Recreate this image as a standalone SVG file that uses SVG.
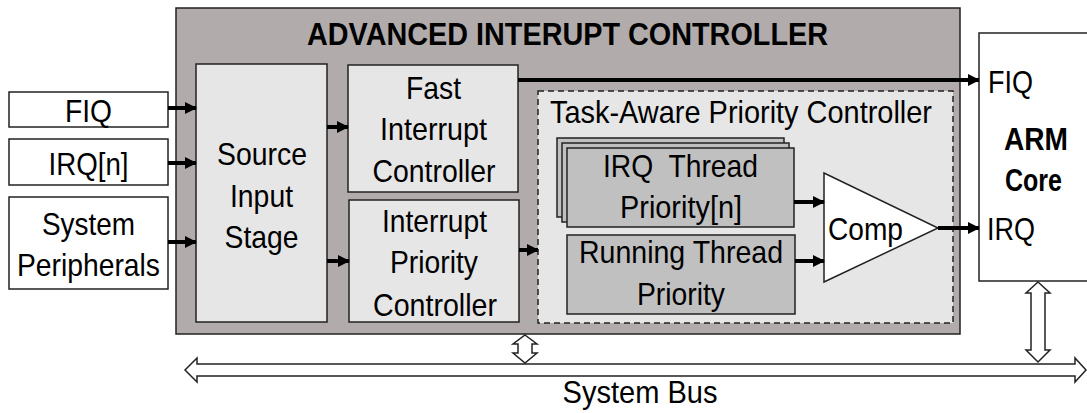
<svg xmlns="http://www.w3.org/2000/svg" width="1087" height="413" viewBox="0 0 1087 413">
<defs>
<style>
.t{font-family:"Liberation Sans",Arial,sans-serif;font-size:32px;fill:#000;text-anchor:middle}
.b{font-weight:bold}
.s{text-anchor:start}
.box{stroke:#222;stroke-width:1.5}
.w{fill:#fff}
.l{fill:#e6e6e6}
.g{fill:#c0c0c0}
.c{stroke:#000;stroke-width:4;fill:none;marker-end:url(#ah)}
.blk{fill:#fff;stroke:#222;stroke-width:1.5}
</style>
<marker id="ah" markerUnits="userSpaceOnUse" markerWidth="12" markerHeight="12" refX="11" refY="6" orient="auto"><path d="M0,0 L12,6 L0,12 z" fill="#000"/></marker>
</defs>
<rect width="1087" height="413" fill="#fff"/>
<g id="aic"><rect class="box" x="176" y="8" width="784" height="326" fill="#b1acab"/>
<text class="t b" x="567.5" y="45" textLength="521" lengthAdjust="spacingAndGlyphs">ADVANCED INTERUPT CONTROLLER</text></g>
<g id="in-fiq"><rect class="box w" x="9" y="92" width="159" height="35"/><text class="t" x="88.5" y="122" textLength="47" lengthAdjust="spacingAndGlyphs">FIQ</text></g>
<g id="in-irq"><rect class="box w" x="9" y="139" width="159" height="46"/><text class="t" x="88.5" y="175" textLength="80" lengthAdjust="spacingAndGlyphs">IRQ[n]</text></g>
<g id="in-sys"><rect class="box w" x="9" y="197" width="159" height="92"/><text class="t" x="88.5" y="235" textLength="93" lengthAdjust="spacingAndGlyphs">System</text><text class="t" x="88.5" y="276" textLength="143" lengthAdjust="spacingAndGlyphs">Peripherals</text></g>
<g id="sis"><rect class="box l" x="196" y="64" width="131" height="258"/><text class="t" x="262" y="165" textLength="90" lengthAdjust="spacingAndGlyphs">Source</text><text class="t" x="261.5" y="206.5" textLength="63" lengthAdjust="spacingAndGlyphs">Input</text><text class="t" x="261.5" y="248" textLength="74" lengthAdjust="spacingAndGlyphs">Stage</text></g>
<g id="fic"><rect class="box l" x="348" y="65" width="170" height="127"/><text class="t" x="433.5" y="99" textLength="55" lengthAdjust="spacingAndGlyphs">Fast</text><text class="t" x="433.5" y="140" textLength="107" lengthAdjust="spacingAndGlyphs">Interrupt</text><text class="t" x="434" y="182" textLength="123" lengthAdjust="spacingAndGlyphs">Controller</text></g>
<g id="ipc"><rect class="box l" x="349" y="200" width="170" height="122"/><text class="t" x="434.5" y="232" textLength="105" lengthAdjust="spacingAndGlyphs">Interrupt</text><text class="t" x="434" y="273" textLength="88" lengthAdjust="spacingAndGlyphs">Priority</text><text class="t" x="435" y="316" textLength="124" lengthAdjust="spacingAndGlyphs">Controller</text></g>
<g id="tapc"><rect x="538" y="91" width="415" height="232" fill="#e6e6e6" stroke="#222" stroke-width="1.5" stroke-dasharray="6,4"/><text class="t" x="741" y="123" textLength="382" lengthAdjust="spacingAndGlyphs">Task-Aware Priority Controller</text></g>
<g id="irqtp"><rect class="box g" x="557" y="138" width="227" height="79"/><rect class="box g" x="562" y="143" width="227" height="79"/><rect class="box g" x="567" y="148" width="227" height="79"/><text class="t" x="680.5" y="177" textLength="155" lengthAdjust="spacingAndGlyphs" xml:space="preserve">IRQ  Thread</text><text class="t" x="681" y="218" textLength="122" lengthAdjust="spacingAndGlyphs">Priority[n]</text></g>
<g id="rtp"><rect class="box g" x="567" y="235" width="228" height="79"/><text class="t" x="681" y="263" textLength="204" lengthAdjust="spacingAndGlyphs">Running Thread</text><text class="t" x="681" y="305" textLength="88" lengthAdjust="spacingAndGlyphs">Priority</text></g>
<g id="comp"><polygon class="box w" points="824,173 824,282 938,228"/><text class="t" x="865.5" y="240" textLength="75" lengthAdjust="spacingAndGlyphs">Comp</text></g>
<g id="arm"><rect class="box w" x="979" y="33" width="120" height="248"/><text class="t s" x="988" y="93" textLength="45" lengthAdjust="spacingAndGlyphs">FIQ</text><text class="t b" x="1036" y="150" textLength="64" lengthAdjust="spacingAndGlyphs">ARM</text><text class="t b" x="1033.5" y="191" textLength="57" lengthAdjust="spacingAndGlyphs">Core</text><text class="t s" x="987" y="240" textLength="48" lengthAdjust="spacingAndGlyphs">IRQ</text></g>
<g id="bus"><path class="blk" d="M185,370 L197,358 L197,364 L1075,364 L1075,358 L1086,370 L1075,382 L1075,376 L197,376 L197,382 Z"/><text class="t" x="640" y="403" textLength="155" lengthAdjust="spacingAndGlyphs">System Bus</text></g>
<g id="connectors">
<line class="c" x1="168" y1="108" x2="196" y2="108"/>
<line class="c" x1="168" y1="163" x2="196" y2="163"/>
<line class="c" x1="168" y1="242" x2="196" y2="242"/>
<line class="c" x1="327" y1="127" x2="348" y2="127"/>
<line class="c" x1="327" y1="261" x2="349" y2="261"/>
<line class="c" x1="519" y1="250" x2="538" y2="250"/>
<line class="c" x1="518" y1="80" x2="979" y2="80"/>
<line class="c" x1="794" y1="202" x2="824" y2="202"/>
<line class="c" x1="795" y1="261" x2="824" y2="261"/>
<line class="c" x1="938" y1="228" x2="979" y2="228"/>
<path class="blk" d="M525,335 L537,344 L532,344 L532,353 L537,353 L525,363 L513,353 L518,353 L518,344 L513,344 Z"/>
<path class="blk" d="M1038,282 L1050,293 L1045,293 L1045,350 L1050,350 L1038,362 L1026,350 L1031,350 L1031,293 L1026,293 Z"/>
</g>
</svg>
